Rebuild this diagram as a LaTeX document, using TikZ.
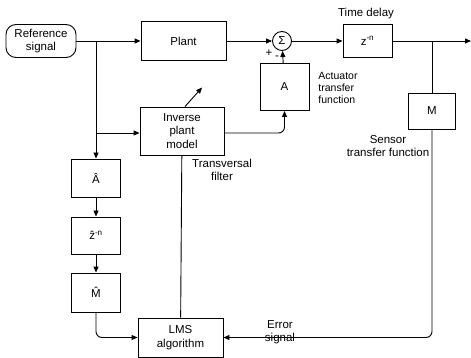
\documentclass[tikz,border=0pt]{standalone}
\usepackage{amsmath}
\usepackage{fontspec}
\setmainfont{Liberation Sans}
\usetikzlibrary{arrows.meta, positioning, calc}

\begin{document}
\begin{tikzpicture}[
    x=1pt, y=-1pt,
    line width=0.9pt,
    >={Triangle[length=6pt,width=5pt]},
    font=\fontsize{11.5}{13.5}\selectfont,
    block/.style={draw, align=center, inner sep=1pt,
                  minimum width=#1},
    block/.default=49pt,
    note/.style={align=center, inner sep=0pt}
]
    \useasboundingbox (0,0) rectangle (471,358);

    % Reference signal
    \node[draw, rounded corners=10pt, align=center, minimum width=70pt, minimum height=33pt] (ref) at (41,41) {Reference\\signal};

    % Forward path
    \node[block=85pt, minimum height=39pt] (plant) at (183.5,41) {Plant};
    \node[draw, circle, minimum size=19pt, inner sep=0pt] (sum) at (282,41) {Σ};
    \node[block, minimum height=33pt] (delay) at (367.5,41) {z\textsuperscript{-n}};
    \node[note] (delaylbl) at (366,14) {Time delay};
    \coordinate (out) at (471,41);
    \coordinate (tap) at (432,41);

    % Sensor and actuator
    \node[block=47pt, minimum height=36pt] (sensor) at (432,111) {M};
    \node[block, minimum height=47pt] (act) at (284.5,87) {A};
    \node[note, align=left, font=\fontsize{10.5}{12}\selectfont] (actlbl) at (338,88) {Actuator\\transfer\\function};
    \node[note] (senslbl) at (388,146) {Sensor\\transfer function};

    % Inverse plant model
    \node[block=84pt, minimum height=48pt] (inv) at (182,131) {Inverse\\plant\\model};
    \node[note] (invlbl) at (222,170) {Transversal\\filter};

    % Estimates
    \node[block, minimum height=38pt] (ahat) at (96,178) {\^A};
    \node[block, minimum height=37pt] (zhat) at (96,235.5) {\^z\textsuperscript{-n}};
    \node[block, minimum height=39pt] (mhat) at (96,292.5) {\^M};

    % LMS algorithm
    \node[block=85pt, minimum height=39pt] (lms) at (180.5,337.5) {LMS\\algorithm};
    \node[note] (errlbl) at (280,332) {Error\\signal};

    % Arrows
    \coordinate (split) at (ahat.north |- ref.east);
    \draw[->] (ref) -- (plant);
    \draw[->] (plant) -- (sum);
    \draw[->] (sum) -- (delay);
    \draw[->] (delay) -- (out);
    \draw (tap) -- (sensor);
    \draw[->] (act) -- (sum);
    \draw[->, rounded corners=6pt] (inv.east |- 0,133) -| (act.south);
    \draw[->] (split) -- (ahat);
    \draw[->] (split |- 0,133) -- (inv.west |- 0,133);
    \draw[->] (ahat) -- (zhat);
    \draw[->] (zhat) -- (mhat);
    \draw[->, rounded corners=6pt] (mhat.south) |- (lms.west);
    \draw[->, rounded corners=6pt] (sensor.south) |- (lms.east);
    \draw (inv) -- (lms);
    \draw[->] ($(inv.north)+(3,0)$) -- ++(17,-19);

    % Signs
    \node[note] (plus) at (269,53) {+};
    \node[note] (minus) at (277,58) {-};
\end{tikzpicture}
\end{document}
